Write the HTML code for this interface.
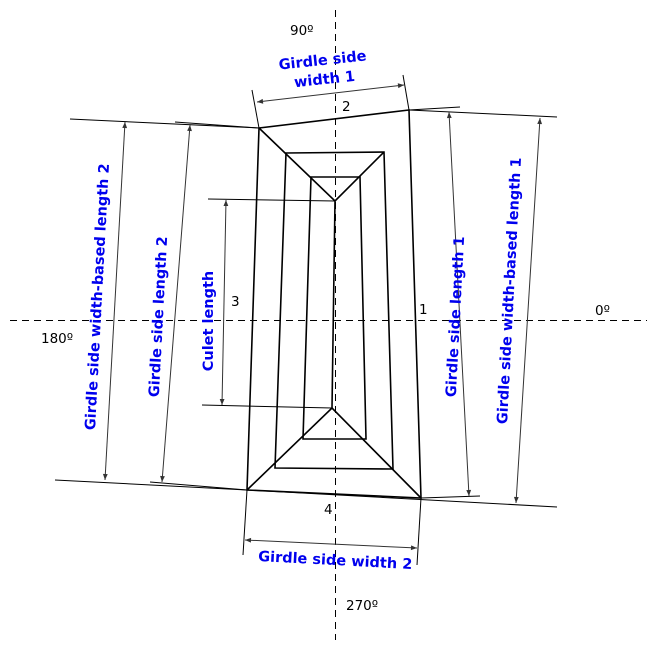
<!DOCTYPE html>
<html><head><meta charset="utf-8"><style>body{margin:0;background:#fff}svg{display:block}</style></head><body>
<svg width="657" height="646" viewBox="0 0 657 646" xmlns="http://www.w3.org/2000/svg">
<defs><marker id="a" viewBox="0 0 10 10" refX="10" refY="5" markerWidth="9" markerHeight="6" orient="auto-start-reverse" markerUnits="userSpaceOnUse"><path d="M0,1 L10,5 L0,9 z" fill="#333"/></marker></defs>
<g stroke="#000" stroke-width="1" stroke-dasharray="7,5" fill="none" shape-rendering="crispEdges">
<line x1="10" y1="320.5" x2="647" y2="320.5"/><line x1="335.5" y1="10" x2="335.5" y2="640"/></g>
<g stroke="#000" stroke-width="1" fill="none">
<line x1="70" y1="119" x2="259" y2="128"/><line x1="175" y1="122" x2="259" y2="128"/>
<line x1="409" y1="110" x2="460" y2="107"/><line x1="409" y1="110" x2="557" y2="117"/>
<line x1="55" y1="480" x2="247" y2="490"/><line x1="150" y1="482" x2="247" y2="490"/>
<line x1="247" y1="490" x2="557" y2="507"/><line x1="421" y1="498" x2="480" y2="496"/>
<line x1="208" y1="199" x2="335" y2="201"/><line x1="202" y1="405" x2="332" y2="408"/>
<line x1="252" y1="90" x2="259" y2="128"/><line x1="403" y1="75" x2="409" y2="110"/>
<line x1="247" y1="490" x2="243" y2="555"/><line x1="421" y1="498" x2="417" y2="565"/>
</g>
<g stroke="#333" stroke-width="1" fill="none" marker-start="url(#a)" marker-end="url(#a)">
<line x1="125" y1="122" x2="105" y2="480"/><line x1="190" y1="125" x2="162" y2="482"/>
<line x1="226" y1="200" x2="222" y2="405"/><line x1="449" y1="112" x2="469" y2="496"/>
<line x1="540" y1="118" x2="516" y2="503"/><line x1="257" y1="102" x2="404" y2="85"/>
<line x1="245" y1="540" x2="417" y2="548"/>
</g>
<g stroke="#000" stroke-width="1.6" fill="none">
<polygon points="259,128 409,110 421,498 247,490"/>
<polygon points="286,153 384,152 393,469 275,468"/>
<polygon points="311,177 360,177 366,439 303,439"/>
<polyline points="259,128 335,201 384,152"/>
<line x1="335" y1="201" x2="332" y2="408"/>
<polyline points="247,490 332,408 421,498"/>
</g>
<g font-family="'DejaVu Sans',Verdana,sans-serif" font-size="13.5" fill="#000">
<text x="290" y="35">90º</text><text x="595" y="315">0º</text><text x="41" y="343">180º</text><text x="346" y="610">270º</text>
<text x="342" y="111">2</text><text x="419" y="314">1</text><text x="231" y="306">3</text><text x="324" y="514">4</text>
</g>
<g font-family="'DejaVu Sans',Verdana,sans-serif" font-size="14.5" font-weight="bold" fill="#0000ee" text-anchor="middle">
<text transform="translate(323,65) rotate(-6)">Girdle side</text>
<text transform="translate(325,84) rotate(-6)">width 1</text>
<text transform="translate(335,565) rotate(3)">Girdle side width 2</text>
<text transform="translate(102,297) rotate(-87)">Girdle side width-based length 2</text>
<text transform="translate(163,317) rotate(-87)">Girdle side length 2</text>
<text transform="translate(213,321) rotate(-90)">Culet length</text>
<text transform="translate(460,317) rotate(-87)">Girdle side length 1</text>
<text transform="translate(514,291) rotate(-87)">Girdle side width-based length 1</text>
</g>
</svg>
</body></html>
